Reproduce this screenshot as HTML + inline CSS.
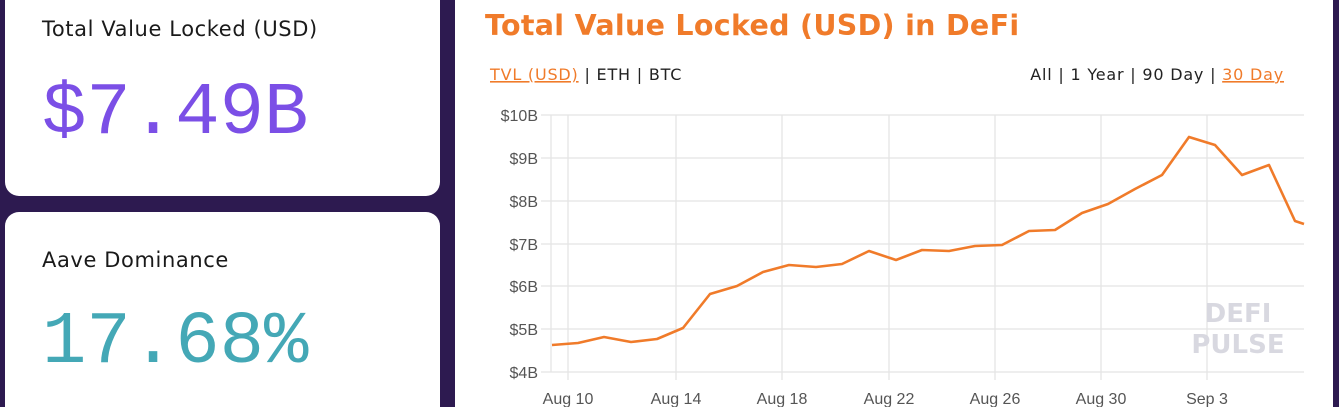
<!DOCTYPE html>
<html><head><meta charset="utf-8"><style>
html,body{margin:0;padding:0;background:#2d1a50;width:1339px;height:407px;overflow:hidden}
</style></head><body>
<svg width="1339" height="407" xmlns="http://www.w3.org/2000/svg" style="display:block;overflow:hidden">
<rect width="1339" height="407" fill="#2d1a50"/>
<rect x="5" y="-20" width="435" height="216" rx="14" fill="#fff"/>
<rect x="5" y="212" width="435" height="220" rx="14" fill="#fff"/>
<rect x="455" y="0" width="878" height="407" fill="#fff"/>
<g font-family="'DejaVu Sans','Liberation Sans',sans-serif" fill="#1a1a1a" letter-spacing="0.6">
<text x="42" y="36" font-size="21">Total Value Locked (USD)</text>
<text x="42" y="267" font-size="21">Aave Dominance</text>
</g>
<text x="42" y="133" font-family="'Liberation Mono',monospace" font-size="74" fill="#7b4fe6">$7.49B</text>
<text x="42" y="362" font-family="'Liberation Mono',monospace" font-size="74" fill="#44a8b6">17.68%</text>
<text x="485" y="35" font-family="'DejaVu Sans','Liberation Sans',sans-serif" font-weight="bold" font-size="28.5" fill="#f07b2a" letter-spacing="0.3">Total Value Locked (USD) in DeFi</text>
<g font-family="'DejaVu Sans','Liberation Sans',sans-serif" font-size="16" fill="#222" letter-spacing="0.8">
<text x="490" y="80"><tspan fill="#f07b2a" text-decoration="underline">TVL (USD)</tspan> | ETH | BTC</text>
<text x="1284" y="80" text-anchor="end">All | 1 Year | 90 Day | <tspan fill="#f07b2a" text-decoration="underline">30 Day</tspan></text>
</g>
<g stroke="#e4e4e4" stroke-width="1.3">
<line x1="541" y1="115" x2="1304" y2="115"/><line x1="541" y1="158" x2="1304" y2="158"/>
<line x1="541" y1="201" x2="1304" y2="201"/><line x1="541" y1="244" x2="1304" y2="244"/>
<line x1="541" y1="286" x2="1304" y2="286"/><line x1="541" y1="329" x2="1304" y2="329"/>
<line x1="541" y1="372" x2="1304" y2="372"/>
<line x1="551" y1="115" x2="551" y2="372"/>
<line x1="568" y1="115" x2="568" y2="380"/><line x1="676" y1="115" x2="676" y2="380"/>
<line x1="782" y1="115" x2="782" y2="380"/><line x1="889" y1="115" x2="889" y2="380"/>
<line x1="995" y1="115" x2="995" y2="380"/><line x1="1101" y1="115" x2="1101" y2="380"/>
<line x1="1207" y1="115" x2="1207" y2="380"/>
</g>
<g font-family="'Liberation Sans',sans-serif" font-size="16" fill="#555" text-anchor="end">
<text x="538" y="121">$10B</text><text x="538" y="164">$9B</text><text x="538" y="207">$8B</text>
<text x="538" y="250">$7B</text><text x="538" y="292">$6B</text><text x="538" y="335">$5B</text>
<text x="538" y="378">$4B</text>
</g>
<g font-family="'Liberation Sans',sans-serif" font-size="16" fill="#555" text-anchor="middle">
<text x="568" y="404">Aug 10</text><text x="676" y="404">Aug 14</text><text x="782" y="404">Aug 18</text>
<text x="889" y="404">Aug 22</text><text x="995" y="404">Aug 26</text><text x="1101" y="404">Aug 30</text>
<text x="1207" y="404">Sep 3</text>
</g>
<g font-family="'DejaVu Sans',sans-serif" font-weight="bold" font-size="26" fill="#d8d8e0" text-anchor="middle">
<text x="1238" y="322">DEFI</text><text x="1238" y="353">PULSE</text>
</g>
<polyline fill="none" stroke="#f07b2a" stroke-width="2.6" stroke-linejoin="round" points="552,345 578,343 604,337 631,342 657,339 683,328 710,294 737,286 763,272 789,265 816,267 842,264 869,251 896,260 922,250 949,251 975,246 1002,245 1029,231 1055,230 1082,213 1108,204 1135,189 1162,175 1189,137 1215,145 1242,175 1269,165 1295,221 1304,224"/>
</svg>
</body></html>
